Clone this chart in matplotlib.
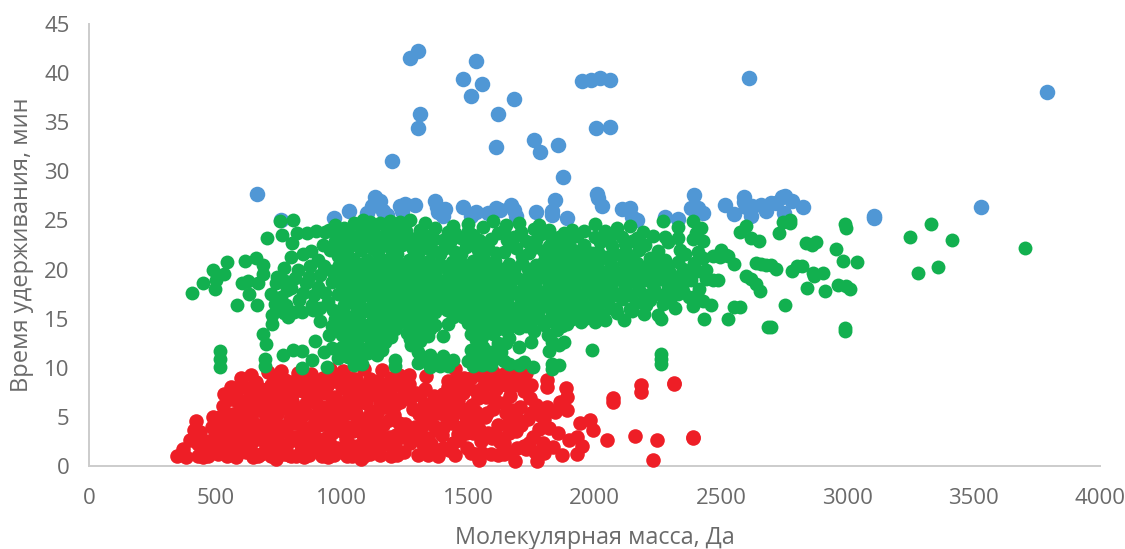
# -*- coding: utf-8 -*-
import matplotlib
matplotlib.use("Agg")
import matplotlib.pyplot as plt
import numpy as np

plt.rcParams['font.family'] = ['Open Sans', 'DejaVu Sans']

x_ticks = [0, 500, 1000, 1500, 2000, 2500, 3000, 3500, 4000]
y_ticks = [0, 5, 10, 15, 20, 25, 30, 35, 40, 45]

# (масса, время)
blue_points = [
    (3790,38.1),(2610,39.5),(1300,42.3),(1270,41.5),(1530,41.2),(1480,39.4),(1555,38.9),(1510,37.7),(1680,37.4),
    (1310,35.8),(1300,34.4),(1620,35.8),(1610,32.5),(1760,33.2),(1785,32),(1855,32.7),(1200,31.1),(1875,29.4),
    (1950,39.2),(1985,39.3),(2020,39.5),(2060,39.3),(2005,34.4),(2060,34.5),(665,27.7),(3530,26.4),(3105,25.2),
    (3105,25.5),(2825,26.4),(760,25),(970,25.2),(1030,26),(1100,25.8),(1120,26.5),(1130,27.4),(1150,27),(1165,26),
    (1180,25.6),(1230,26.5),(1250,26.7),(1290,26.6),(1240,26),(1370,27),(1375,26.4),(1380,25.9),(1410,26.2),
    (1400,25.5),(1480,26.4),(1510,25.5),(1530,25.9),(1580,25.8),(1610,26.3),(1625,26.1),(1670,26.6),(1680,26.1),
    (1690,25.5),(1770,25.9),(1830,26),(1845,27.1),(1830,25.6),(1890,25.2),(2010,27.7),(2015,27.3),(2030,26.5),
    (2110,26.2),(2140,26.3),(2150,25.4),(2170,25),(2280,25.4),(2330,25.1),(2380,26.3),(2395,27.6),(2410,26.3),
    (2430,25.8),(2515,26.6),(2550,25.7),(2590,27.4),(2590,26.9),(2600,26.4),(2625,26.5),(2660,26.6),(2680,26),
    (2700,26.8),(2740,27.4),(2755,27.5),(2780,27),(2750,25.8),(2720,26.8),(2620,25.5),
]

red_points = [
    # левый край
    (350,1),(370,1.7),(385,0.9),(400,2.6),(415,3.7),(430,1),(430,2.2),(425,4.6),(470,1),(490,5),(500,3.2),(510,1.2),
    (510,2.2),(530,6.1),(535,7.3),(535,4.2),(545,1),(555,2.8),(560,8),(570,5.3),(580,0.9),(590,3.6),(600,9),(610,6.6),
    (620,1.4),(625,7.9),(640,9.3),(645,4.6),(650,2.5),(660,8.6),(670,1),(675,5.7),(690,6.9),(700,3.4),(710,9.6),
    (715,1.5),(720,8.2),(730,4.8),(740,0.7),(745,2.5),(755,7.2),(760,9.7),(770,5.9),(780,3.6),(790,1.1),(800,8.6),
    (805,6.6),(815,4.4),(825,9.5),(830,2.4),(845,7.6),(850,0.9),(860,5.4),(870,3.2),(880,9.4),(885,6.9),(895,1.6),
    (900,8.3),(910,4.2),(920,2.6),(930,5.9),(935,7.4),(945,0.9),(955,9.9),(960,3.4),(970,8.7),(980,1.8),(985,6.3),
    (995,4.8),(1005,9.7),(1015,2.7),(1020,7.7),(1030,5.4),(1040,1),(1045,3.6),(1055,8.9),(1065,6.4),(1075,0.7),
    (1080,4.6),(1090,9.9),(1095,2.4),(1105,7.6),(1115,5.6),(1125,1.4),(1130,3.5),(1145,8.7),(1150,6.5),(1160,9.8),
    (1165,4.2),(1175,2.2),(1190,7.4),(1195,1),(1205,5.2),(1215,3.2),(1225,9.3),(1230,6.5),(1245,1.4),(1250,4.3),
    (1265,8.3),(1270,2.3),(1280,5.8),(1295,7.4),(1300,1.1),(1310,3.5),(1325,6.3),(1335,9.2),(1345,4.8),(1355,2.2),
    (1365,7.1),(1380,1),(1385,5.4),(1395,3.2),(1410,6.6),(1420,8.7),(1425,1.6),(1435,4.4),(1450,9.9),(1455,7.4),
    (1465,2.6),(1475,5.8),(1485,9),(1490,3.4),(1500,7.9),(1510,1.3),(1515,6.2),(1530,9.5),(1535,4.5),(1545,0.6),
    (1550,2.5),(1560,8),(1575,5.4),(1580,3.4),(1590,1.2),(1600,9.6),(1605,6.7),(1620,4.2),(1630,8.7),(1640,2.3),
    (1650,5.4),(1665,7.1),(1670,1.3),(1680,9.3),(1685,0.5),(1690,3.6),(1705,6),(1715,8.4),(1720,2),(1730,9.5),
    (1735,4.8),(1745,6.9),(1755,3),(1765,1.4),(1772,0.5),(1785,5.2),(1795,2.3),(1812,8.8),(1812,8),(1812,6),
    (1820,3.9),(1835,1.9),(1845,5.5),(1855,3.4),(1863,6.5),(1871,1.1),(1887,7.9),(1891,7),(1891,5.7),(1900,2.6),
    (1930,1.2),(1930,3),(1942,4.4),(1950,2),(1982,4.7),(1994,3.7),(2049,2.6),(2073,6.5),(2073,6.9),(2160,3.05),
    (2184,8.2),(2184,7.5),(2248,2.6),(2231,0.6),(2316,8.3),(2316,8.5),(2390,2.8),(2390,3),
    # плотная часть
    (740,3),(760,2),(780,6),(800,1),(800,3),(820,5),(840,1.5),(860,8),(880,4),(900,2),(920,6),(940,3),(960,6),
    (980,5),(1000,1.4),(1000,3.6),(1020,4),(1040,6.4),(1060,2),(1080,7),(1100,4),(1110,1.2),(1140,2.3),(1170,6),
    (1200,8),(1210,2),(1240,7),(1260,3.6),(1290,4),(1320,2.2),(1330,7.8),(1360,1.6),(1375,3.7),(1400,1.8),(1415,4.7),
    (1440,2.3),(1445,7),(1470,4),(1495,1.8),(1520,3.4),(1555,1.3),(1565,5),(1595,2.8),(1610,7.8),(1640,1.2),(1660,3.4),
    (1695,1.8),(1710,4.2),(700,2),(720,5.8),(740,6.4),(660,3),(640,6),(610,1.8),(590,5),(570,2),(560,6.8),(545,3.6),
    (530,1.9),(520,5),(480,1.8),(460,1.4),(450,0.9),(440,3.5),(620,3.4),(680,1.2),(680,7.8),(650,0.9),(590,7.8),
    (575,4),(600,3),(770,7.9),(830,5.9),(860,2.3),(890,7.9),(930,1.3),(950,5.2),(975,7),(1010,6.2),(1050,7.7),
    (1085,3.2),(1120,8),(1155,3),(1185,4.7),(1235,3),(1270,6.8),(1340,2.9),(1400,5.4),(1440,6),(1480,7.4),(1530,7.6),
    (1545,3.8),(1570,7),(1625,2.4),(1650,8.2),(1675,5.7),(1700,8.9),(1730,1.7),(1750,5.4),(1780,3.8),(1800,1.3),
    # заполнение
    (720,1),(770,1.2),(820,1),(870,1.1),(920,1),(970,1.1),(1020,1),(1090,1),(1150,1.1),(1220,1.1),(1340,1.1),(1450,1.1),(1530,1.2),(1620,1.1),
    (730,2.1),(785,2.2),(815,3),(850,3),(895,3),(955,2.2),(1030,2.2),(1075,2.1),(1115,2.9),(1190,3),(1285,2.9),(1400,3.9),(1460,3.3),(1610,3.2),
    (730,3.9),(760,4.1),(795,4.8),(840,4.2),(890,5.1),(930,4.3),(975,4.1),(1060,4.5),(1105,5),(1140,4.4),(1225,4.4),(1320,4.2),(1365,4.1),(1510,4.6),
    (700,5),(745,5.3),(795,5.7),(845,5.2),(905,5.4),(1005,5.2),(1055,5.4),(1140,5.4),(1210,6.2),(1305,5.3),(1350,5.6),(1440,5.2),(1530,5.5),(1640,6.4),
    (705,6.2),(750,6.5),(800,7.1),(860,6.4),(900,6.4),(960,6.9),(1025,6.8),(1095,6.4),(1135,7.2),(1175,7.1),(1255,7.6),(1310,7.2),(1400,7.3),(1540,6.9),
    (700,7.5),(735,7.3),(825,7.7),(880,7.9),(915,8.2),(940,8.1),(1000,8),(1070,8.2),(1165,8.2),(1230,8.2),(1420,8),(1470,8.3),(1580,8.7),(1680,8.2),
    (730,8.9),(775,8.8),(830,8.7),(865,9),(925,9),(990,9),(1035,9),(1110,8.9),(1195,9),(1265,9.3),(1460,9),(1510,9),(1555,9.2),(1640,9.4),
    (1720,7.6),(1750,8.2),(1770,6.2),(1800,4.8),(1740,2.3),(1690,5),(1660,4.4),(1600,5.8),(1490,5),(1460,6.6),(1370,6.2),(1320,5.3),
    (560,1.8),(600,2),(640,1.5),(690,2.6),(560,3.4),(610,4.2),(660,4),(690,4.3),(610,5.5),(650,5.5),(640,7),(670,6.6),(590,6.5),(650,7.8),
    (460,2.5),(530,3),(485,4),(505,4.4),(550,5),
]

green_points = [
    # левая редкая часть
    (406,17.6),(450,18.6),(499,18),(492,20),(545,20.8),(534,19.5),(503,18.9),(518,11.7),(518,10.9),(518,10.1),
    (617,20.9),(660,21.2),(690,20.5),(587,16.4),(604,18.6),(631,18.8),(670,18.6),(690,19.5),(635,17.5),(666,16.4),
    (703,23.2),(756,24.9),(809,25),(763,23.5),(802,22.7),(822,23.7),(861,23.7),(898,23.9),(690,13.4),(699,12.4),
    (697,10.9),(697,10.2),(769,11.3),(809,11.8),(842,11.7),(842,10),(881,10.8),(943,10.1),(723,14.5),(723,15.4),
    (749,16),(789,15.2),(842,15.7),(881,16.4),(914,14.8),(894,12.7),(720,17.5),(745,19.2),(770,20.2),(785,17.9),
    (800,21.3),(815,19.1),(830,16.9),(845,21.6),(860,18.6),(875,20.4),(890,17.4),(905,21),(915,19.4),(935,17.6),
    (955,22),(960,18.7),(985,20.1),(1000,23.3),(1010,16.4),(1015,18.9),(1030,22.3),(1040,14.9),(1045,21.1),(1060,17.3),
    # плотная часть
    (950,24),(975,24.5),(1010,24.2),(1050,24.7),(1085,25),(1110,24.8),(1150,24.7),(1190,24.9),(1230,24.8),(1270,25),
    (1330,24.7),(1370,24.2),(1440,24.4),(1500,24.6),(1560,24.3),(1600,24.9),(1650,24.5),(1700,24.7),(1760,24.1),
    (1790,23.6),(1830,23.1),(1880,23.7),(1930,23.4),(2000,24.6),(2040,23.9),(2090,24.2),(2140,24.4),(2170,23.2),
    (2230,23.4),(2270,24.9),(2330,24.3),(2340,22),(2390,24.9),(2400,23.7),(2390,23.1),(2430,22.9),
    (1060,23.4),(1100,23.8),(1135,23),(1175,23.7),(1215,23.3),(1255,23.9),(1295,23.2),(1340,23.4),(1400,23),(1420,23.8),
    (1470,23.2),(1520,23.5),(1590,23.1),(1620,23.7),(1680,23.3),(1730,22.9),(1770,23),(1850,22.5),(1900,22.7),(1960,22.5),
    (2020,22.8),(2070,22.4),(2120,22.6),(2200,22.5),(2250,21.9),(2290,22.8),
    (1000,22.2),(1040,22.6),(1075,22),(1120,22.2),(1160,22.4),(1200,21.9),(1240,22.5),(1280,22.1),(1320,22.4),(1365,21.9),
    (1410,22.2),(1450,21.8),(1490,22.3),(1540,22),(1580,22.2),(1640,21.8),(1690,22.2),(1740,21.7),(1800,21.8),(1840,21.4),
    (1890,21.5),(1940,21.4),(1990,21.7),(2040,21.3),(2100,21.5),(2150,21.1),(2220,21.2),(2280,21),(2330,20.8),(2360,21.6),
    (1010,21),(1060,20.7),(1100,21),(1145,20.8),(1180,21),(1225,20.6),(1265,21),(1305,20.7),(1345,20.9),(1390,20.6),
    (1435,20.8),(1475,20.6),(1520,20.9),(1565,20.5),(1605,20.9),(1660,20.6),(1715,20.7),(1770,20.5),(1820,20.4),(1870,20.5),
    (1920,20.3),(1970,20.5),(2015,20.2),(2070,20.4),(2125,20.1),(2190,20.3),(2250,20),(2300,19.6),(2350,20.1),(2410,19.9),
    (2440,19),(960,19.9),(1030,19.8),(1075,19.5),(1120,19.7),(1165,19.4),(1205,19.7),(1250,19.3),(1290,19.6),(1330,19.3),
    (1370,19.5),(1420,19.2),(1460,19.5),(1505,19.2),(1550,19.5),(1595,19.2),(1640,19.5),(1690,19.2),(1740,19.5),(1790,19.2),
    (1840,19.4),(1890,19.1),(1940,19.3),(1990,19),(2040,19.3),(2090,19),(2145,19.2),(2200,18.9),(2260,19),(2320,18.7),(2380,18.9),
    (1000,18.4),(1050,18.3),(1095,18.5),(1140,18.2),(1185,18.4),(1230,18.1),(1270,18.4),(1315,18.1),(1355,18.4),(1400,18.1),
    (1445,18.4),(1490,18.1),(1535,18.4),(1580,18.1),(1625,18.4),(1670,18.1),(1720,18.4),(1770,18.1),(1820,18.3),(1870,18),
    (1920,18.2),(1970,17.9),(2020,18.2),(2070,17.9),(2120,18.2),(2175,17.9),(2235,18),(2290,17.7),(2350,17.8),(2415,18),
    (2430,16.8),(1030,17.2),(1080,17.3),(1125,17),(1170,17.3),(1215,17),(1260,17.3),(1300,17),(1345,17.3),(1390,17),
    (1430,17.3),(1475,17),(1520,17.2),(1565,17),(1610,17.2),(1655,16.9),(1705,17.2),(1750,16.9),(1800,17.1),(1850,16.8),
    (1900,17),(1950,16.7),(2000,17),(2055,16.7),(2110,17),(2165,16.6),(2220,16.9),(2300,16.7),(2320,16.1),(2390,16.3),
    (1000,15.9),(1060,16),(1105,15.8),(1150,16),(1195,15.7),(1240,16),(1285,15.7),(1325,15.9),(1370,15.7),(1415,15.9),
    (1455,15.6),(1500,15.9),(1545,15.6),(1590,15.9),(1635,15.6),(1680,15.9),(1730,15.6),(1780,15.9),(1830,15.6),(1880,15.8),
    (1930,15.5),(1990,15.7),(2030,15.4),(2115,14.9),(2150,15.8),(2250,15.4),(2265,15),(2435,15),
    (960,14.3),(1010,14.6),(1050,14.7),(1095,14.4),(1150,14.7),(1190,14.4),(1230,14.7),(1270,14.4),(1320,14.6),(1370,14.4),
    (1420,14.5),(1500,14.6),(1545,14.3),(1580,14.6),(1630,14.4),(1680,14.6),(1730,14.3),(1800,14.4),(1890,14.5),(1945,14.7),
    (2000,14.7),(1000,13.3),(1050,13.4),(1100,13.2),(1140,13.4),(1195,13.1),(1260,13.5),(1290,13.3),(1340,13.2),(1400,13.2),
    (1510,13.4),(1555,13.1),(1600,13.4),(1660,13),(1815,13.3),(1850,13.8),(1830,12.6),(1000,12.1),(1040,12.3),(1085,11.9),
    (1130,12.2),(1160,11.8),(1275,12.3),(1300,11.6),(1350,11.3),(1400,11.2),(1440,10.8),(1530,12.8),(1560,12.1),(1590,11.6),
    (1630,11.6),(1650,12.5),(1530,11.2),(1500,10.7),(1555,10.3),(1590,10.3),(1700,12.1),(1750,12.6),(1820,11.7),(1860,12.3),
    (1880,12.6),(1990,11.8),(1025,11.1),(1050,10.3),(1080,10.4),(1210,10.8),(1210,10.2),(1300,10.5),(1350,10.1),(1390,10.2),
    (1420,10.2),(1640,10.7),(1660,10.4),(1700,10.3),(1720,10.6),(1755,10.1),(1830,10.4),(1860,10.3),(1830,9.9),
    # заполнение
    (980,23.6),(1030,23.6),(1080,24.3),(1125,24),(1165,23.4),(1205,24.2),(1245,23.2),(1310,24),(1365,23.1),(1450,23.7),(1500,23.9),(1545,23),(1640,24),(1655,23),(1710,23.8),(1860,23.3),
    (975,22.9),(1020,21.6),(1055,22.9),(1095,22.7),(1145,21.7),(1185,22.7),(1220,21.6),(1265,22.8),(1300,21.6),(1345,22.1),(1390,21.6),(1430,22.8),(1470,21.6),(1515,22.6),(1560,21.3),(1610,21.7),(1665,22.6),(1715,21.4),(1770,22.3),(1820,22.4),(1870,21.9),(1915,22),(1965,21.9),(2015,21.8),(2070,21.5),(2125,21.8),(2175,22),(2245,21),
    (990,20.5),(1035,20.4),(1080,20.3),(1125,20.3),(1160,20.1),(1200,20.3),(1245,20.1),(1285,20.2),(1325,20.1),(1365,20.2),(1415,20.1),(1455,20.1),(1495,20),(1540,20.1),(1585,20),(1630,20.1),(1680,20),(1735,20.1),(1790,19.9),(1845,20),(1895,19.9),(1945,19.9),(1995,19.8),(2045,19.8),(2100,19.7),(2155,19.7),(2225,19.7),(2280,20),
    (1000,19),(1050,18.9),(1095,19),(1145,18.9),(1185,19),(1230,18.8),(1270,19),(1310,18.8),(1350,18.9),(1395,18.8),(1440,18.9),(1485,18.8),(1530,18.9),(1575,18.8),(1615,18.9),(1665,18.8),(1715,18.9),(1765,18.8),(1815,18.8),(1865,18.7),(1915,18.7),(1965,18.6),(2015,18.6),(2065,18.6),(2115,18.6),(2170,18.5),(2230,18.4),(2290,18.3),
    (1010,17.7),(1060,17.8),(1105,17.7),(1150,17.7),(1195,17.7),(1240,17.7),(1280,17.7),(1325,17.7),(1370,17.7),(1415,17.7),(1455,17.7),(1500,17.7),(1545,17.7),(1590,17.7),(1635,17.7),(1685,17.6),(1735,17.7),(1785,17.6),(1835,17.5),(1885,17.5),(1935,17.4),(1990,17.5),(2040,17.4),(2090,17.4),(2140,17.4),(2200,17.4),(2265,17.4),
    (1020,16.6),(1070,16.6),(1120,16.4),(1165,16.6),(1210,16.4),(1260,16.6),(1305,16.4),(1350,16.5),(1395,16.4),(1440,16.5),(1480,16.4),(1525,16.5),(1570,16.4),(1615,16.5),(1660,16.3),(1710,16.5),(1760,16.3),(1815,16.4),(1865,16.2),(1915,16.3),(1970,16.1),(2015,16.3),(2085,16),
    (1020,15.3),(1070,15.3),(1125,15.3),(1170,15.3),(1215,15.2),(1260,15.3),(1305,15.2),(1350,15.2),(1440,15.2),(1480,15.2),(1525,15.1),(1570,15.1),(1610,15.2),(1660,15.1),(1705,15.1),(1760,15),(1855,15),(1960,15),
    (980,13.8),(1030,14),(1075,13.8),(1120,13.9),(1170,13.9),(1210,13.9),(1300,13.9),(1350,13.9),(1525,14),(1570,13.8),(1620,13.9),(1655,13.7),(1020,12.8),(1060,12.8),(1115,12.8),(1170,12.6),(1270,12.9),(1310,12.7),(1540,12.4),(1620,12.5),
    (1010,11.4),(1060,11.3),(1105,11.5),(1140,11.3),(1320,11),(1370,10.7),(1510,11.8),(1575,11),(1610,11),(1520,10.2),
    # заполнение слева и справа
    (740,18.6),(760,17.2),(780,16.4),(800,18.1),(810,15.7),(845,17.6),(870,19.2),(885,15.9),(905,18.2),(930,20.4),(945,16.7),(965,15.9),(985,17.5),(775,18.8),(825,20),(880,21.9),(925,22.5),(935,23.8),(985,21.4),(770,15.6),(735,16.5),(915,16.1),(950,13.3),(930,11.6),(960,12),(985,11),(975,15),
    (1800,20.9),(1855,21),(1905,20.9),(1960,20.9),(2010,20.9),(2060,20.8),(2115,20.8),(2170,20.7),(2235,20.6),(2290,20.4),(2340,19.3),(2295,19.2),(2225,19.1),(2175,19.2),(2115,19.3),(2065,19.2),(2015,19.2),(1965,19.2),(1915,19.4),(1865,19.4),(1815,19.5),(2395,20.7),(2375,19.6),(2330,17.5),(2375,17.2),(2270,16.5),(2205,16.4),(2140,16),(2065,16.1),(2195,15.5),(2090,15.6),(2040,14.9),(2345,18.3),(2405,17.4),(1910,15),(1785,15),(1820,14.8),(1700,14),(1760,13.7),(1870,14.3),(1960,23.9),(2060,23.3),(2110,23.3),(2190,23.8),(2280,23.3),(2330,23.2),(2000,23.3),(2150,22.9),(1910,24),(1780,24.5),(1820,24),
    # правая часть
    (2265,11.4),(2265,10.9),(2265,10.4),(2420,24.2),(2470,21.4),(2430,21.2),(2500,22),(2520,21.5),(2495,21.3),(2530,21.4),
    (2490,18.9),(2550,20.6),(2530,15),(2575,16.2),(2575,23.8),(2600,24.4),(2620,23.2),(2620,19),(2600,19.3),(2655,17.8),
    (2685,14.2),(2680,20.5),(2640,20.7),(2660,20.6),(2700,20.5),(2720,20.1),(2730,23.7),(2745,24.8),(2755,16.4),(2775,25),
    (2775,24.7),(2780,19.9),(2640,18.5),(2650,22.9),(2835,22.7),(2875,22.8),(2860,22.5),(2840,18.1),(2870,19.3),(2865,19.6),
    (2905,19.7),(2910,17.8),(2955,22.1),(2965,18.4),(2990,24.6),(2995,24.2),(2985,20.9),(2995,18.3),(3010,18),(2990,14),
    (2990,13.7),(3040,20.8),(3250,23.3),(3280,19.6),(3330,24.6),(3360,20.3),(3415,23),(3705,22.2),(2550,16.2),(2800,20.4),
    (2820,20.4),(2700,14.2),(2440,20),(2460,16.4),(2470,18.9),(2410,21.8),
]

blue = np.array(blue_points)
red = np.array(red_points)
green = np.array(green_points)

fig = plt.figure(figsize=(11.25, 5.49), dpi=100)
ax = fig.add_axes([89/1125, (549-466)/549, (1100-89)/1125, (466-24)/549])

ax.scatter(blue[:,0], blue[:,1], s=125, color='#5097D5', linewidths=0, clip_on=False, zorder=3)
ax.scatter(red[:,0], red[:,1], s=110, color='#EE1E26', linewidths=0, clip_on=False, zorder=4)
ax.scatter(green[:,0], green[:,1], s=100, color='#12B04F', linewidths=0, clip_on=False, zorder=5)

ax.set_xlim(0, 4000)
ax.set_ylim(0, 45)
ax.set_xticks(x_ticks)
ax.set_yticks(y_ticks)
ax.tick_params(length=0, labelsize=16, labelcolor='#6A6A6A', pad=16)
ax.tick_params(axis='y', pad=14)
ax.spines['top'].set_visible(False)
ax.spines['right'].set_visible(False)
ax.spines['left'].set_color('#CCCCCC')
ax.spines['bottom'].set_color('#CCCCCC')
ax.spines['left'].set_linewidth(1.4)
ax.spines['bottom'].set_linewidth(1.4)

ax.set_xlabel('Молекулярная масса, Да', fontsize=16.8, color='#6A6A6A', labelpad=12)
ax.set_ylabel('Время удерживания, мин', fontsize=17, color='#6A6A6A', labelpad=7)

fig.savefig('out.png', dpi=100)
